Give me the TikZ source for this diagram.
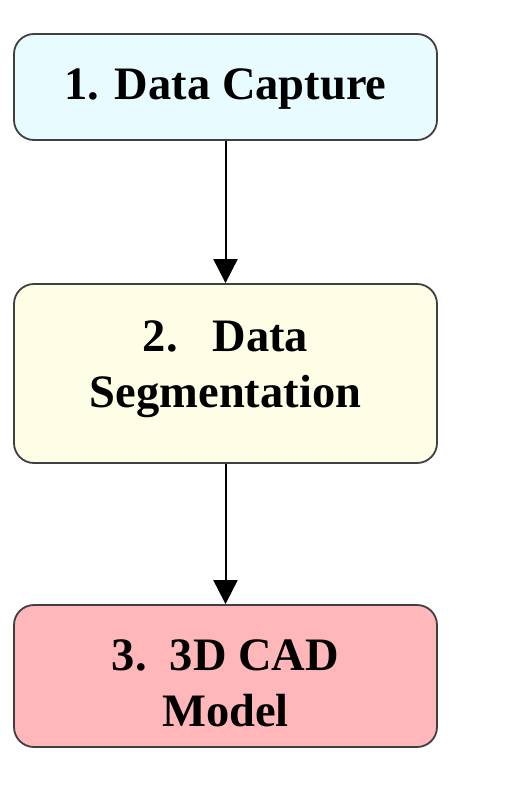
\documentclass[tikz,border=0pt]{standalone}
\usepackage{fontspec}
\setmainfont{Liberation Serif}
\usetikzlibrary{arrows.meta}
\definecolor{capfill}{HTML}{E8FCFF}
\definecolor{segfill}{HTML}{FEFEE6}
\definecolor{cadfill}{HTML}{FFB7B9}
\definecolor{edge}{HTML}{404040}
\tikzset{
  stage/.style={draw=edge, line width=1.8pt, rounded corners=20pt,
    minimum width=423pt, inner sep=0pt},
  caption/.style={align=center, inner sep=0pt, anchor=base,
    font=\bfseries\fontsize{46.5}{56}\selectfont},
  flow/.style={draw=black, line width=2pt, -{Triangle[width=24pt,length=24pt]}}
}
\begin{document}
\begin{tikzpicture}[x=1pt,y=-1pt]
  \useasboundingbox (0,0) rectangle (532,803);
  % stage boxes
  \node[stage, fill=capfill, minimum height=106pt] (capture) at (225.5,87) {};
  \node[stage, fill=segfill, minimum height=179pt] (segment) at (225.5,373.5) {};
  \node[stage, fill=cadfill, minimum height=142pt] (cad) at (225.5,676) {};
  % stage titles (anchored on the baseline of their last line)
  \node[caption] (capturetext) at (225.5,99) {1. Data Capture};
  \node[caption] (segmenttext) at (225.5,407) {2.\ \ \ Data\\Segmentation};
  \node[caption] (cadtext) at (225.5,726) {3.\ \ 3D CAD\\Model};
  % flow between stages
  \draw[flow] (capture) -- (segment);
  \draw[flow] (segment) -- (cad);
\end{tikzpicture}
\end{document}
